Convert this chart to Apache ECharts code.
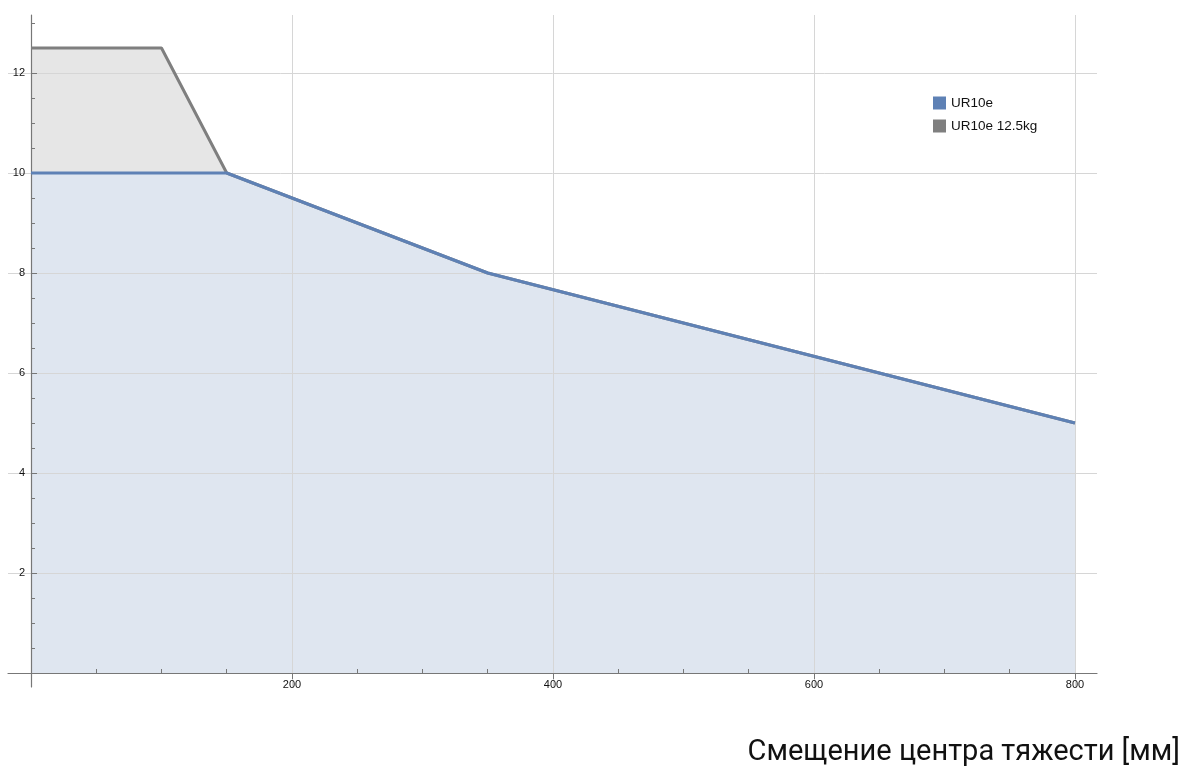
<!DOCTYPE html>
<html>
<head>
<meta charset="utf-8">
<script src="https://cdn.jsdelivr.net/npm/echarts@6/dist/echarts.min.js"></script>
<style>html,body{margin:0;padding:0;background:#fff;}#c{width:1185px;height:771px;}</style>
</head>
<body>
<div id="c"></div>
<script>
// Data
const seriesNames = ['UR10e', 'UR10e 12.5kg'];
const ur10eX = [0, 150, 350, 800];
const ur10eY = [10, 10, 8, 5];
const ur10e125X = [0, 100, 150, 350, 800];
const ur10e125Y = [12.5, 12.5, 10, 8, 5];
const xMajorTicks = [200, 400, 600, 800];
const xMinorTicks = [50, 100, 150, 250, 300, 350, 450, 500, 550, 650, 700, 750];
const yMajorTicks = [2, 4, 6, 8, 10, 12];
const yMinorTicks = [0.5, 1, 1.5, 2.5, 3, 3.5, 4.5, 5, 5.5, 6.5, 7, 7.5, 8.5, 9, 9.5, 10.5, 11, 11.5, 12.5, 13];
const xTitle = 'Смещение центра тяжести [мм]';

const blue = '#5E81B5';
const gray = '#7F7F7F';
const X_MIN = -17.62, X_MAX = 816.9, Y_MIN = -0.28, Y_MAX = 13.16;

function pairs(xs, ys) { return xs.map((x, i) => [x, ys[i]]); }

const chart = echarts.init(document.getElementById('c'), null, {renderer: 'canvas'});
const labelFont = {color: '#111', fontSize: 11, fontFamily: 'Liberation Sans, Arial, sans-serif'};
chart.setOption({
  animation: false,
  backgroundColor: '#fff',
  title: {
    text: xTitle, right: 0, top: 733,
    textStyle: {fontSize: 29, fontWeight: 'normal', color: '#111', fontFamily: 'Roboto, sans-serif'}
  },
  legend: {
    data: [{name: seriesNames[0]}, {name: seriesNames[1]}],
    orient: 'vertical', left: 933, top: 96, padding: 0,
    itemWidth: 13, itemHeight: 13, itemGap: 9, icon: 'rect',
    textStyle: {fontSize: 13.5, color: '#111', fontFamily: 'Liberation Sans, Arial, sans-serif'}
  },
  grid: {left: 8, right: 88, top: 15, bottom: 84, containLabel: false, outerBoundsMode: 'none'},
  xAxis: [
    {
      type: 'value', min: X_MIN, max: X_MAX, position: 'bottom', z: 1,
      axisLine: {show: true, onZero: true, lineStyle: {color: '#777', width: 1.2}},
      axisTick: {show: true, inside: true, length: 4, customValues: xMinorTicks, lineStyle: {color: '#777'}},
      axisLabel: {show: false}, splitLine: {show: false}
    },
    {
      type: 'value', min: X_MIN, max: X_MAX, position: 'bottom', z: 1, offset: -14,
      axisLine: {show: false, onZero: false},
      axisTick: {show: true, inside: false, length: 6, customValues: xMajorTicks, lineStyle: {color: '#777'}},
      axisLabel: Object.assign({show: true, margin: 6, customValues: xMajorTicks}, labelFont),
      splitLine: {show: true, lineStyle: {color: '#d6d6d6', width: 1}}
    }
  ],
  yAxis: [
    {
      type: 'value', min: Y_MIN, max: Y_MAX, position: 'left', z: 1,
      axisLine: {show: true, onZero: true, lineStyle: {color: '#777', width: 1.2}},
      axisTick: {show: true, inside: true, length: 4, customValues: yMinorTicks, lineStyle: {color: '#777'}},
      axisLabel: {show: false}, splitLine: {show: false}
    },
    {
      type: 'value', min: Y_MIN, max: Y_MAX, position: 'left', z: 1, offset: -23,
      axisLine: {show: false, onZero: false},
      axisTick: {show: true, inside: true, length: 6, customValues: yMajorTicks, lineStyle: {color: '#777'}},
      axisLabel: Object.assign({show: true, margin: 6, customValues: yMajorTicks}, labelFont),
      splitLine: {show: true, lineStyle: {color: '#d6d6d6', width: 1}}
    }
  ],
  series: [
    {
      name: seriesNames[1], type: 'line', data: pairs(ur10e125X, ur10e125Y), z: 0,
      symbol: 'none', lineStyle: {width: 0, opacity: 0}, itemStyle: {color: gray},
      areaStyle: {color: '#E6E6E6', opacity: 1, origin: 0}, silent: true
    },
    {
      name: seriesNames[0], type: 'line', data: pairs(ur10eX, ur10eY), z: 0,
      symbol: 'none', lineStyle: {width: 0, opacity: 0}, itemStyle: {color: blue},
      areaStyle: {color: '#DFE6F0', opacity: 1, origin: 0}, silent: true
    },
    {
      name: seriesNames[1], type: 'line', data: pairs(ur10e125X, ur10e125Y), z: 3,
      symbol: 'none', lineStyle: {color: gray, width: 3}, itemStyle: {color: gray}
    },
    {
      name: seriesNames[0], type: 'line', data: pairs(ur10eX, ur10eY), z: 4,
      symbol: 'none', lineStyle: {color: blue, width: 3}, itemStyle: {color: blue}
    }
  ]
});
</script>
</body>
</html>
